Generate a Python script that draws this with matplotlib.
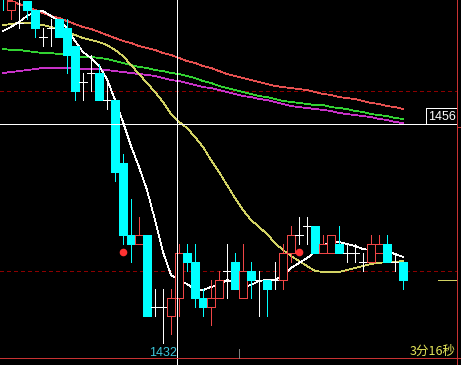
"""
Futures candlestick chart (black terminal style) with moving averages and crosshair.
"""
import matplotlib
matplotlib.use('Agg')
import matplotlib.pyplot as plt
from matplotlib.patches import Rectangle

# ---- candle data (oldest first), prices ----
opens = [1473, 1469, 1467.5, 1470, 1469, 1466, 1467, 1468, 1467, 1465,
         1461, 1462, 1462, 1459, 1459, 1452, 1444, 1443, 1444, 1436,
         1436, 1435, 1437, 1442, 1441, 1437, 1436, 1437, 1440, 1441,
         1437, 1440, 1439, 1439, 1439, 1439, 1442, 1444, 1445, 1445,
         1442, 1442, 1443, 1442, 1442, 1441, 1441, 1442, 1443, 1441, 1441]
highs = [1473, 1471, 1471, 1470, 1469, 1467, 1468, 1468, 1468, 1465,
         1462, 1464, 1463, 1461, 1459, 1453, 1448, 1446, 1444, 1438,
         1438, 1438, 1443, 1443, 1443, 1438, 1439, 1440, 1443, 1442,
         1443, 1441, 1440, 1439, 1441, 1443, 1445, 1446, 1446, 1445,
         1444, 1444, 1445, 1443, 1443, 1442, 1444, 1444, 1444, 1442, 1441]
lows = [1469, 1468, 1467, 1468, 1466, 1465, 1465, 1466, 1462, 1459,
        1459, 1460, 1459, 1458, 1450, 1443, 1441, 1443, 1435, 1435,
        1432, 1433, 1435, 1440, 1436, 1435, 1434, 1437, 1437, 1438,
        1437, 1437, 1435, 1435, 1438, 1438, 1441, 1443, 1443, 1442,
        1442, 1442, 1442, 1441, 1441, 1440, 1441, 1442, 1441, 1440, 1438]
closes = [1471, 1470, 1467.5, 1469, 1467, 1466, 1467, 1466, 1464, 1460,
          1461, 1462, 1459, 1459, 1451, 1444, 1443, 1444, 1435, 1436,
          1436, 1437, 1442, 1441, 1437, 1436, 1437, 1439, 1440, 1438,
          1440, 1439, 1439, 1438, 1439, 1442, 1444, 1444, 1445, 1442,
          1443, 1444, 1442, 1442, 1442, 1441, 1443, 1443, 1441, 1441, 1439]

# ---- moving averages, one value per candle ----
ma_white = [1466.67, 1467.11, 1467.67, 1468.33, 1468.78, 1468.89, 1468.33, 1467.78, 1467.0, 1465.56,
            1464.33, 1463.67, 1462.78, 1461.33, 1459.0, 1456.56, 1453.89, 1451.56, 1449.0, 1445.67,
            1442.11, 1439.56, 1439.0, 1438.56, 1437.89, 1437.89, 1438.22, 1438.44, 1439.0, 1438.67,
            1438.22, 1438.44, 1438.89, 1439.0, 1439.0, 1439.56, 1440.33, 1440.89, 1441.44, 1442.11,
            1442.78, 1443.33, 1443.22, 1443.0, 1442.78, 1442.44, 1442.33, 1442.44, 1442.22, 1441.89, 1441.56]
ma_yellow = [1467.33, 1467.44, 1467.56, 1467.56, 1467.44, 1467.33, 1467.11, 1466.78, 1466.56, 1466.22,
             1465.89, 1465.67, 1465.44, 1465.11, 1464.56, 1463.89, 1462.89, 1461.89, 1460.89, 1459.89,
             1458.78, 1457.44, 1456.56, 1455.89, 1454.89, 1453.78, 1452.33, 1451.0, 1449.56, 1448.11,
             1446.78, 1445.67, 1444.89, 1444.11, 1443.11, 1442.33, 1441.67, 1441.11, 1440.56, 1440.0,
             1439.89, 1439.89, 1439.89, 1440.11, 1440.33, 1440.56, 1440.78, 1440.89, 1441.0, 1441.0, 1441.11]
ma_red = [1470.33, 1470.0, 1469.67, 1469.33, 1469.0, 1468.67, 1468.33, 1468.11, 1467.78, 1467.44,
          1467.11, 1466.89, 1466.56, 1466.22, 1465.89, 1465.56, 1465.33, 1465.0, 1464.78, 1464.56,
          1464.22, 1464.0, 1463.67, 1463.33, 1463.11, 1462.78, 1462.56, 1462.22, 1461.89, 1461.67,
          1461.44, 1461.22, 1461.0, 1460.78, 1460.56, 1460.44, 1460.33, 1460.22, 1460.11, 1459.89,
          1459.67, 1459.56, 1459.33, 1459.22, 1459.11, 1458.89, 1458.67, 1458.56, 1458.33, 1458.22, 1458.0]
ma_green = [1464.67, 1464.56, 1464.56, 1464.44, 1464.33, 1464.22, 1464.22, 1464.11, 1464.0, 1463.89,
            1463.78, 1463.78, 1463.67, 1463.56, 1463.33, 1463.11, 1462.89, 1462.67, 1462.56, 1462.33,
            1462.22, 1462.0, 1461.89, 1461.67, 1461.44, 1461.11, 1460.89, 1460.56, 1460.33, 1460.11,
            1459.89, 1459.67, 1459.44, 1459.33, 1459.11, 1458.89, 1458.78, 1458.67, 1458.56, 1458.44,
            1458.44, 1458.22, 1458.11, 1458.0, 1457.78, 1457.67, 1457.44, 1457.33, 1457.22, 1457.0, 1456.89]
ma_magenta = [1462.0, 1462.11, 1462.22, 1462.33, 1462.44, 1462.56, 1462.56, 1462.56, 1462.56, 1462.56,
              1462.44, 1462.44, 1462.44, 1462.33, 1462.22, 1462.11, 1462.0, 1461.89, 1461.78, 1461.67,
              1461.44, 1461.22, 1461.11, 1460.89, 1460.67, 1460.44, 1460.33, 1460.11, 1459.89, 1459.67,
              1459.44, 1459.33, 1459.11, 1459.0, 1458.78, 1458.56, 1458.33, 1458.22, 1458.11, 1458.0,
              1457.89, 1457.78, 1457.56, 1457.44, 1457.33, 1457.22, 1457.11, 1456.89, 1456.78, 1456.56, 1456.44]

signal_idx = [15, 37]
signal_price = [1442.1, 1442.1]
grid_prices = [1460, 1440]

cross_idx = 21.75
cross_price = 1456.33
cross_price_label = '1456'
cross_time_label = '1432'
countdown_label = '3分16秒'

# colours
BG = 'black'
UP = '#f04646'
DOWN = '#00ffff'
DOJI = 'white'
GRID = '#8c0000'
FRAME = '#c83232'

W, H = 461, 365
# 8 px per candle, 9 px per price point
x0, x1 = -3 / 8, (W - 3) / 8
y_top = 1443 + 244 / 9
y_bot = 1443 - (H - 244) / 9
LW = 0.72  # one pixel
MLW = 0.55  # thin average lines

plt.rcParams['font.family'] = ['Noto Sans CJK SC', 'DejaVu Sans']
num_font = ['Liberation Sans', 'DejaVu Sans']

fig = plt.figure(figsize=(W / 100, H / 100), dpi=100, facecolor=BG)
ax = fig.add_axes([0, 0, 1, 1])
ax.set_facecolor(BG)
ax.set_xlim(x0, x1)
ax.set_ylim(y_bot, y_top)
ax.set_axis_off()

x_frame = 454 / 8          # right border
y_frame = 1443 - 114 / 9   # bottom border

for gp in grid_prices:
    ax.plot([x0, x_frame], [gp, gp], color=GRID, lw=MLW, dashes=(4, 4),
            antialiased=False, zorder=1)

idx = list(range(len(opens)))
ma_kw = dict(lw=MLW, antialiased=False, zorder=2)
ax.plot(idx, ma_red, color='#e65050', **ma_kw)
ax.plot(idx, ma_green, color='#32d232', **ma_kw)
ax.plot(idx, ma_magenta, color='#c832c8', **ma_kw)
ax.plot(idx, ma_yellow, color='#d2d264', **ma_kw)

bw = 0.9
for i in idx:
    o, h, l, c = opens[i], highs[i], lows[i], closes[i]
    if c > o:
        col = UP
    elif c < o:
        col = DOWN
    else:
        col = DOJI
    ax.plot([i, i], [l, h], color=col, lw=MLW, antialiased=False, zorder=3)
    if c == o:
        ax.plot([i - bw / 2, i + bw / 2], [o, o], color=col, lw=MLW,
                antialiased=False, zorder=4)
    elif c > o:
        ax.add_patch(Rectangle((i - bw / 2, o), bw, c - o, facecolor=BG,
                               edgecolor=col, lw=MLW, antialiased=False, zorder=4))
    else:
        ax.add_patch(Rectangle((i - bw / 2, c), bw, o - c, facecolor=col,
                               edgecolor=col, lw=MLW, antialiased=False, zorder=4))

ax.plot(idx, ma_white, color='white', **ma_kw)

ax.plot(signal_idx, signal_price, 'o', color='#ff3232', ms=5.5, mec='none', zorder=6)

# last price marker
ax.plot([(438 - 3) / 8, x_frame], [closes[-1], closes[-1]], color='#d2d264',
        lw=MLW, antialiased=False, zorder=2)

# crosshair
box_left = (426 - 3) / 8
ax.plot([cross_idx, cross_idx], [y_bot, y_top], color='white', lw=LW,
        antialiased=False, zorder=7)
ax.plot([x0, box_left], [cross_price, cross_price], color='white', lw=LW,
        antialiased=False, zorder=7)
ax.add_patch(Rectangle((box_left, cross_price), x_frame - box_left, 16 / 9,
                       facecolor=BG, edgecolor='white', lw=LW,
                       antialiased=False, zorder=8))
ax.text((box_left + x_frame) / 2, cross_price + 7.5 / 9, cross_price_label,
        color='white', fontsize=9, ha='center', va='center',
        family=num_font, zorder=9)

# frame
ax.plot([x_frame, x_frame], [y_bot, y_top], color=FRAME, lw=LW,
        antialiased=False, zorder=8)
ax.plot([x0, x1], [y_frame, y_frame], color=FRAME, lw=LW,
        antialiased=False, zorder=8)
ax.plot([x_frame, x1], [1443 - (127 - 244) / 9] * 2, color=FRAME, lw=LW,
        antialiased=False, zorder=8)
ax.plot([(239 - 3) / 8] * 2, [y_frame, y_frame + 9 / 9], color='#808080',
        lw=LW, antialiased=False, zorder=8)

ax.text((149 - 3) / 8, y_frame + 1.5 / 9, cross_time_label, color='#3cc8dc',
        fontsize=9, ha='left', va='baseline', family=num_font, zorder=9)
ax.text((456 - 3) / 8, y_frame + 3 / 9, countdown_label, color='#e6e65a',
        fontsize=9, ha='right', va='baseline', zorder=9)

fig.savefig('out.png', dpi=100, facecolor=BG)
